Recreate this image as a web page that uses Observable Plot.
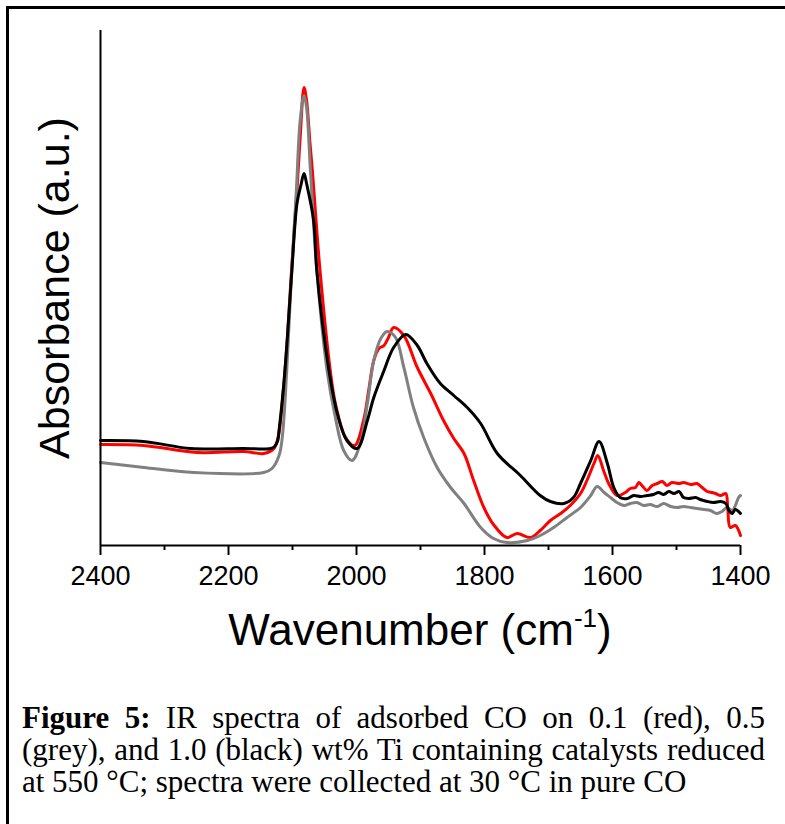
<!DOCTYPE html>
<html>
<head>
<meta charset="utf-8">
<script src="https://cdn.jsdelivr.net/npm/d3@7"></script>
<script src="https://cdn.jsdelivr.net/npm/@observablehq/plot@0.6"></script>
<style>
  html, body { margin: 0; padding: 0; background: #fff; overflow: hidden; }
  #frame { position: absolute; left: 6px; top: 6px; width: 820px; height: 840px;
           border-top: 3px solid #000; border-left: 3px solid #000; }
  #chart { position: absolute; left: 0; top: 0; }
  #caption { position: absolute; left: 22px; top: 702px; width: 743px;
             font-family: "Liberation Serif", "Times New Roman", serif; font-size: 31px;
             line-height: 32px; text-align: justify; color: #000; }
</style>
</head>
<body>
<div id="frame"></div>
<div id="chart"></div>
<div id="caption"><b>Figure 5:</b> IR spectra of adsorbed CO on 0.1 (red), 0.5 (grey), and 1.0 (black) wt% Ti containing catalysts reduced at 550 °C; spectra were collected at 30 °C in pure CO</div>
<script>
// Wavenumber (cm-1) and absorbance (a.u.)
const redWn  = [2400,2333,2249,2176,2145,2129,2122,2114,2108,2101,2093,2088,2082,2078,2073,2069,2057,2041,2033,2017,2003,1989,1981,1973,1965,1957,1950,1942,1926,1905,1884,1864,1848,1832,1817,1801,1786,1765,1749,1728,1713,1697,1681,1666,1650,1640,1629,1623,1614,1606,1593,1580,1572,1564,1559,1554,1546,1538,1530,1522,1515,1507,1496,1489,1478,1468,1460,1452,1444,1439,1431,1423,1420,1416,1408,1400];
const redAbs = [1.01,1.00,0.93,0.94,0.92,0.97,1.10,1.58,2.08,2.80,3.55,4.08,4.58,4.45,4.05,3.75,2.75,1.75,1.42,1.08,1.00,1.25,1.55,1.85,1.97,2.00,2.08,2.18,2.10,1.78,1.52,1.25,1.07,0.92,0.65,0.38,0.21,0.08,0.12,0.08,0.15,0.25,0.32,0.40,0.52,0.65,0.82,0.90,0.75,0.62,0.50,0.53,0.57,0.58,0.63,0.60,0.55,0.60,0.62,0.64,0.60,0.63,0.62,0.63,0.61,0.62,0.58,0.54,0.53,0.52,0.50,0.52,0.38,0.18,0.20,0.10];

const greyWn  = [2400,2332,2254,2145,2132,2121,2116,2109,2102,2094,2088,2082,2078,2072,2062,2046,2033,2020,2007,1994,1983,1973,1962,1952,1939,1926,1911,1895,1874,1853,1832,1806,1786,1765,1733,1713,1692,1671,1650,1634,1624,1613,1603,1593,1582,1572,1562,1551,1541,1530,1520,1509,1499,1489,1478,1468,1457,1447,1437,1429,1421,1413,1408,1403,1400];
const greyAbs = [0.83,0.78,0.73,0.73,0.77,0.90,1.08,1.75,2.65,3.55,4.25,4.50,4.38,3.75,2.75,1.75,1.28,0.95,0.85,1.02,1.42,1.85,2.07,2.14,2.08,1.78,1.38,1.08,0.78,0.58,0.42,0.18,0.07,0.03,0.05,0.10,0.18,0.28,0.38,0.50,0.59,0.53,0.48,0.43,0.40,0.42,0.43,0.40,0.41,0.39,0.42,0.39,0.38,0.39,0.38,0.37,0.36,0.35,0.32,0.34,0.38,0.35,0.40,0.48,0.50];

const blackWn  = [2400,2333,2259,2177,2134,2128,2123,2121,2114,2108,2101,2093,2087,2082,2078,2067,2062,2043,2030,2015,1999,1983,1973,1957,1942,1923,1905,1890,1869,1848,1827,1806,1780,1744,1713,1697,1676,1661,1650,1634,1621,1608,1598,1588,1577,1567,1556,1546,1536,1528,1520,1512,1504,1496,1489,1481,1470,1463,1452,1442,1431,1423,1418,1413,1408,1400];
const blackAbs = [1.05,1.04,0.97,0.97,0.97,0.99,1.05,1.15,1.58,2.08,2.75,3.42,3.60,3.72,3.62,3.25,2.75,1.75,1.32,1.05,0.97,1.25,1.48,1.75,1.98,2.11,2.00,1.82,1.62,1.50,1.38,1.22,0.92,0.70,0.50,0.44,0.42,0.48,0.62,0.85,1.04,0.82,0.58,0.48,0.47,0.50,0.49,0.50,0.51,0.53,0.51,0.54,0.52,0.54,0.48,0.47,0.48,0.46,0.44,0.43,0.44,0.42,0.35,0.32,0.36,0.32];

const majorTicks = [2400, 2200, 2000, 1800, 1600, 1400];
const minorTicks = [2300, 2100, 1900, 1700, 1500];

const toRows = (wn, ab, s) => wn.map((w, i) => ({w, a: ab[i], s}));
const rows = [
  ...toRows(redWn, redAbs, "red"),
  ...toRows(greyWn, greyAbs, "grey"),
  ...toRows(blackWn, blackAbs, "black")
];

const plot = Plot.plot({
  width: 785,
  height: 660,
  marginLeft: 100,
  marginRight: 45,
  marginTop: 30,
  marginBottom: 115,
  style: {background: "transparent", color: "#000", fontFamily: "'Liberation Sans', Arial, sans-serif"},
  x: {domain: [2400, 1400], axis: null},
  y: {domain: [0, 5.15], axis: null},
  color: {domain: ["red", "grey", "black"], range: ["#ff0000", "#808080", "#000000"]},
  marks: [
    Plot.line(rows, {x: "w", y: "a", z: "s", stroke: "s", strokeWidth: 3, curve: "catmull-rom"}),
    Plot.ruleX([2400], {strokeWidth: 2}),
    Plot.ruleY([0], {strokeWidth: 2}),
    Plot.axisX(majorTicks, {tickSize: 10, tickPadding: 10, strokeWidth: 2, fontSize: 27, tickFormat: d => String(d), label: null}),
    Plot.axisX(minorTicks, {tickSize: 5, strokeWidth: 2, tickFormat: () => "", label: null}),
    Plot.text(["Absorbance (a.u.)"], {frameAnchor: "left", textAnchor: "middle", rotate: -90, dx: -45, fontSize: 43, fill: "#000"})
  ]
});

// x-axis title with superscript
const svg = d3.select(plot);
const t = svg.append("text")
  .attr("x", 420).attr("y", 645)
  .attr("text-anchor", "middle")
  .attr("font-family", "'Liberation Sans', Arial, sans-serif")
  .attr("font-size", 44)
  .attr("fill", "#000");
t.append("tspan").text("Wavenumber (cm");
t.append("tspan").attr("font-size", 26).attr("dy", -18).text("-1");
t.append("tspan").attr("dy", 18).text(")");

document.getElementById("chart").appendChild(plot);
</script>
</body>
</html>
